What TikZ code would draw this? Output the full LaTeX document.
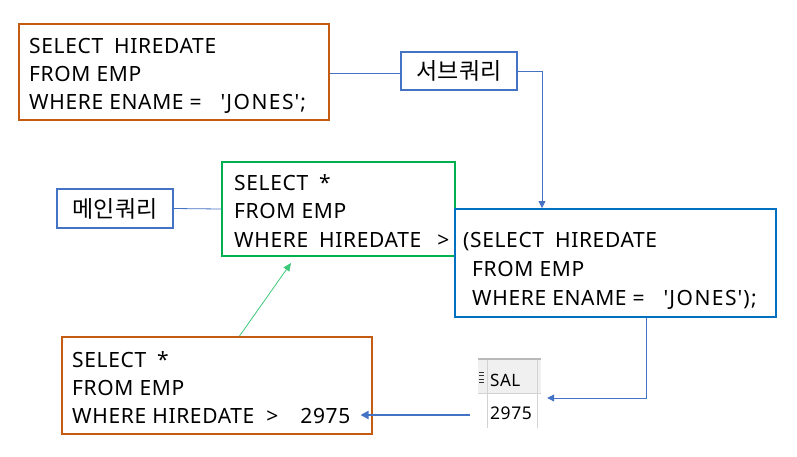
\documentclass[tikz,border=0pt]{standalone}
\usepackage{fontspec}
\setmainfont{Noto Sans}[LetterSpace=3]
\newfontfamily\kr{Noto Sans CJK KR}
\newfontfamily\qfont{Noto Sans}[LetterSpace=7]
\usetikzlibrary{arrows.meta,calc}
\definecolor{orng}{HTML}{C55A11}
\definecolor{grn}{HTML}{00B050}
\definecolor{blu}{HTML}{0070C0}
\definecolor{lbl}{HTML}{4472C4}
\definecolor{lcon}{HTML}{8FAADC}
\definecolor{gcon}{HTML}{3DC97A}
\newcommand{\sq}{\hspace{1pt}\textquotesingle\hspace{1pt}}
\begin{document}
\begin{tikzpicture}[x=1pt,y=-1pt,
  qbox/.style={draw,line width=2pt,inner sep=0pt},
  lblbox/.style={draw=lbl,line width=1.2pt,inner sep=0pt,font=\kr\fontsize{23}{26}\selectfont},
  code/.style={anchor=base west,inner sep=0pt,font=\fontsize{21}{24}\selectfont},
  con/.style={draw=lbl,line width=0.8pt},
  tipa/.style={-{Triangle[length=7pt,width=7pt]}}
]
\useasboundingbox (0,0) rectangle (797,456);
% boxes
\node[qbox,draw=orng,minimum width=310pt,minimum height=96pt] (q1) at (174,72) {};
\node[qbox,draw=grn,minimum width=233pt,minimum height=94pt] (main) at (338.5,209) {};
\node[qbox,draw=blu,minimum width=321pt,minimum height=108pt] (sub) at (615.5,263) {};
\node[qbox,draw=orng,minimum width=310pt,minimum height=97pt] (q3) at (216.5,385.5) {};
\node[lblbox,minimum width=116pt,minimum height=38pt] (lsub) at (459,71) {서브쿼리};
\node[lblbox,minimum width=116pt,minimum height=39pt] (lmain) at (115,208.5) {메인쿼리};
% texts box 1
\node[code] (t11) at (29,53) {SELECT\hspace{11pt}HIREDATE};
\node[code] (t12) at (29,81) {FROM EMP};
\node[code] (t13) at (29,109) {WHERE ENAME =\hspace{18pt}{\qfont\sq JONES\sq;}};
% main
\node[code] (t21) at (234,190) {SELECT\hspace{11pt}*};
\node[code] (t22) at (234,218) {FROM EMP};
\node[code] (t23) at (234,247) {WHERE\hspace{11pt}HIREDATE\hspace{16pt}>};
% sub
\node[code] (t31) at (463,247) {(SELECT\hspace{11pt}HIREDATE};
\node[code] (t32) at (472,276) {FROM EMP};
\node[code] (t33) at (472,305) {WHERE ENAME =\hspace{18pt}{\qfont\sq JONES\sq);}};
% q3
\node[code] (t41) at (72,367) {SELECT\hspace{11pt}*};
\node[code] (t42) at (72,395) {FROM EMP};
\node[code] (t43) at (72,423) {WHERE HIREDATE\hspace{12pt}>\hspace{22pt}2975};
% SAL grid
\fill[gray!12] (478,359) rectangle (541,393);
\draw[gray!35,line width=0.6pt] (487,359) -- (487,428);
\draw[gray!35,line width=0.6pt] (537,359) -- (537,428);
\draw[gray!35,line width=0.8pt] (478,393) -- (541,393);
\draw[gray!55,line width=1.5pt] (478,359) -- (541,359);
\foreach \yy in {372,375.5,379,382.5} \draw[black!80,line width=1pt] (479,\yy) -- (484,\yy);
\node[anchor=base west,inner sep=0pt,font=\fontsize{17}{19}\selectfont] (sal) at (490,386) {SAL};
\node[anchor=base west,inner sep=0pt,font=\fontsize{17.5}{19}\selectfont] (val) at (490,419) {2975};
\node[inner sep=0pt,minimum width=64pt,minimum height=70pt] (grid) at (510,394) {};
% connectors
\draw[con] (q1.east |- 0,73) -- (lsub.west |- 0,73);
\draw[con,tipa,lbl] (lsub.east) -| ($(sub.north west)+(88,0)$);
\draw[con] (lmain.east) -- (main.west);
\draw[draw=lcon,line width=1pt,tipa,lbl] ($(sub.south west)+(192,0)$) |- ($(grid.east)+(5,4)$);
\draw[lbl,line width=1.8pt,-{Triangle[length=8pt,width=8pt]}] ($(grid.west)+(-8,21)$) -- ($(q3.east)+(-12,29.5)$);
\draw[gcon,line width=0.8pt,-{Triangle[length=8pt,width=7pt]}] ($(q3.north west)+(179,0)$) -- ($(main.south west)+(70,6)$);
\end{tikzpicture}
\end{document}
